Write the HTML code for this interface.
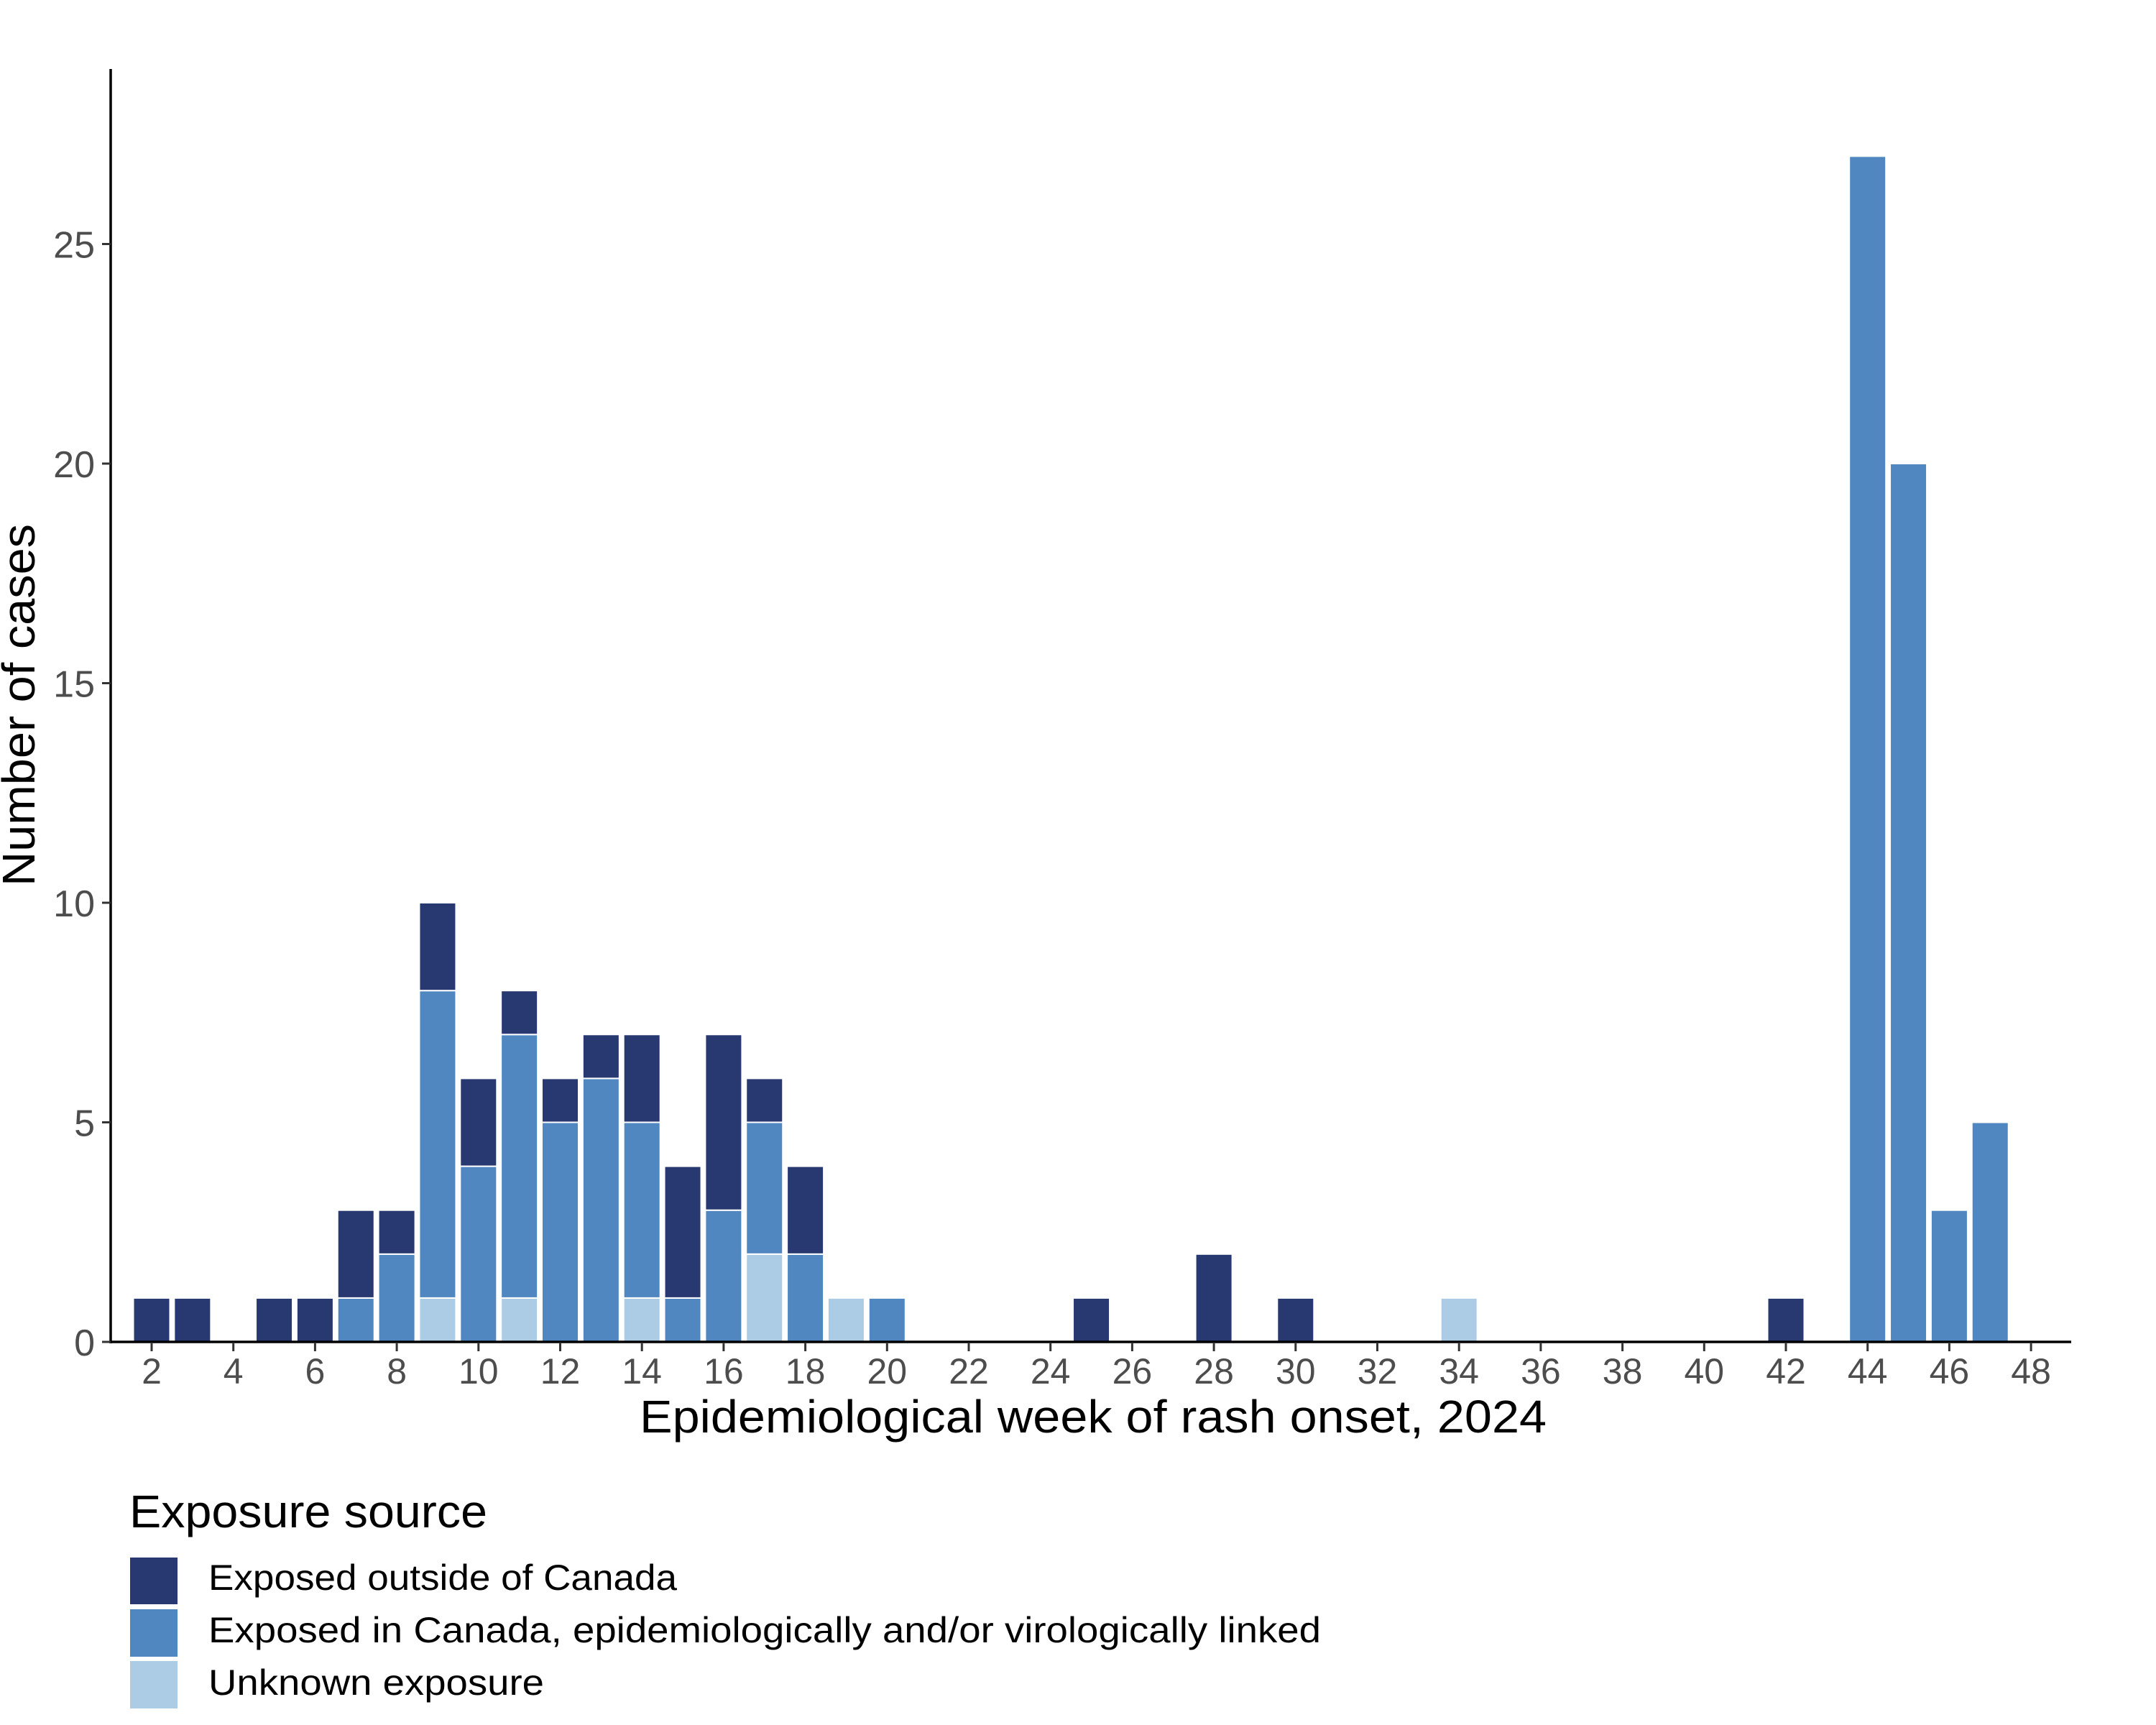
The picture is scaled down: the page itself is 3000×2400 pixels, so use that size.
<!DOCTYPE html>
<html><head><meta charset="utf-8"><style>html,body{margin:0;padding:0;background:#fff}svg{display:block}</style></head>
<body>
<svg id="chart" width="3000" height="2400" xmlns="http://www.w3.org/2000/svg" font-family="'Liberation Sans', sans-serif">
<rect width="3000" height="2400" fill="#fff"/>
<g id="bars"></g>
<g id="axes"></g>
<text x="1521" y="1993" font-size="64" text-anchor="middle" textLength="1262" lengthAdjust="spacingAndGlyphs">Epidemiological week of rash onset, 2024</text>
<text transform="translate(48,981) rotate(-90)" font-size="64" text-anchor="middle" textLength="504" lengthAdjust="spacingAndGlyphs">Number of cases</text>
<g>
<text x="180" y="2125" font-size="64" textLength="498" lengthAdjust="spacingAndGlyphs">Exposure source</text>
<rect x="181" y="2167" width="66" height="65" fill="#283870"/>
<rect x="181" y="2239" width="66" height="66" fill="#5087c1"/>
<rect x="181" y="2311" width="66" height="66" fill="#abcce4"/>
<text x="290" y="2212" font-size="50" textLength="652" lengthAdjust="spacingAndGlyphs">Exposed outside of Canada</text>
<text x="290" y="2285" font-size="50" textLength="1548" lengthAdjust="spacingAndGlyphs">Exposed in Canada, epidemiologically and/or virologically linked</text>
<text x="290" y="2358" font-size="50" textLength="467" lengthAdjust="spacingAndGlyphs">Unknown exposure</text>
</g>
</svg>
<script>
const weeks =     [2,3,5,6,7,8,9,10,11,12,13,14,15,16,17,18,19,20,25,28,30,34,42,44,45,46,47];
const unknown =   [0,0,0,0,0,0,1,0, 1, 0, 0, 1, 0, 0, 2, 0, 1, 0, 0, 0, 0, 1, 0, 0, 0, 0, 0];
const inCanada =  [0,0,0,0,1,2,7,4, 6, 5, 6, 4, 1, 3, 3, 2, 0, 1, 0, 0, 0, 0, 0,27,20, 3, 5];
const outside =   [1,1,1,1,2,1,2,2, 1, 1, 1, 2, 3, 4, 1, 2, 0, 0, 1, 2, 1, 0, 1, 0, 0, 0, 0];
const xTicks = [2,4,6,8,10,12,14,16,18,20,22,24,26,28,30,32,34,36,38,40,42,44,46,48];
const yTicks = [0,5,10,15,20,25];

const NS = "http://www.w3.org/2000/svg";
const xScale = w => 211 + (w - 2) * 56.85;
const yScale = v => 1867 - v * 61.1;
const bw = 51;
const bars = document.getElementById('bars');
const axes = document.getElementById('axes');
function mk(tag, attrs, parent) {
  const e = document.createElementNS(NS, tag);
  for (const k in attrs) e.setAttribute(k, attrs[k]);
  parent.appendChild(e);
  return e;
}
const series = [[unknown, '#abcce4', 'unknown'], [inCanada, '#5087c1', 'in-canada'], [outside, '#283870', 'outside']];
weeks.forEach((w, i) => {
  let base = 0;
  series.forEach(([arr, col, nm]) => {
    const v = arr[i];
    if (v > 0) {
      const r = mk('rect', {x: xScale(w) - bw / 2, y: yScale(base + v), width: bw, height: yScale(base) - yScale(base + v), fill: col, stroke: '#fff', 'stroke-width': 2}, bars);
      
      
    }
    base += v;
  });
});
const yl = mk('line', {x1: 154, y1: 96, x2: 154, y2: 1869, stroke: '#000', 'stroke-width': 3.5}, axes);


const xl = mk('line', {x1: 152, y1: 1867, x2: 2882, y2: 1867, stroke: '#000', 'stroke-width': 3.5}, axes);


xTicks.forEach(t => {
  mk('line', {x1: xScale(t), y1: 1869, x2: xScale(t), y2: 1880, stroke: '#333', 'stroke-width': 3}, axes);
  const tx = mk('text', {x: xScale(t), y: 1925, 'font-size': 50, fill: '#4d4d4d', 'text-anchor': 'middle'}, axes);
  tx.textContent = t;
  
  
});
yTicks.forEach(t => {
  mk('line', {x1: 142, y1: yScale(t), x2: 154, y2: yScale(t), stroke: '#333', 'stroke-width': 3}, axes);
  const tx = mk('text', {x: 132, y: yScale(t) + 19, 'font-size': 52, fill: '#4d4d4d', 'text-anchor': 'end'}, axes);
  tx.textContent = t;
  
  
});
</script>
</body></html>
